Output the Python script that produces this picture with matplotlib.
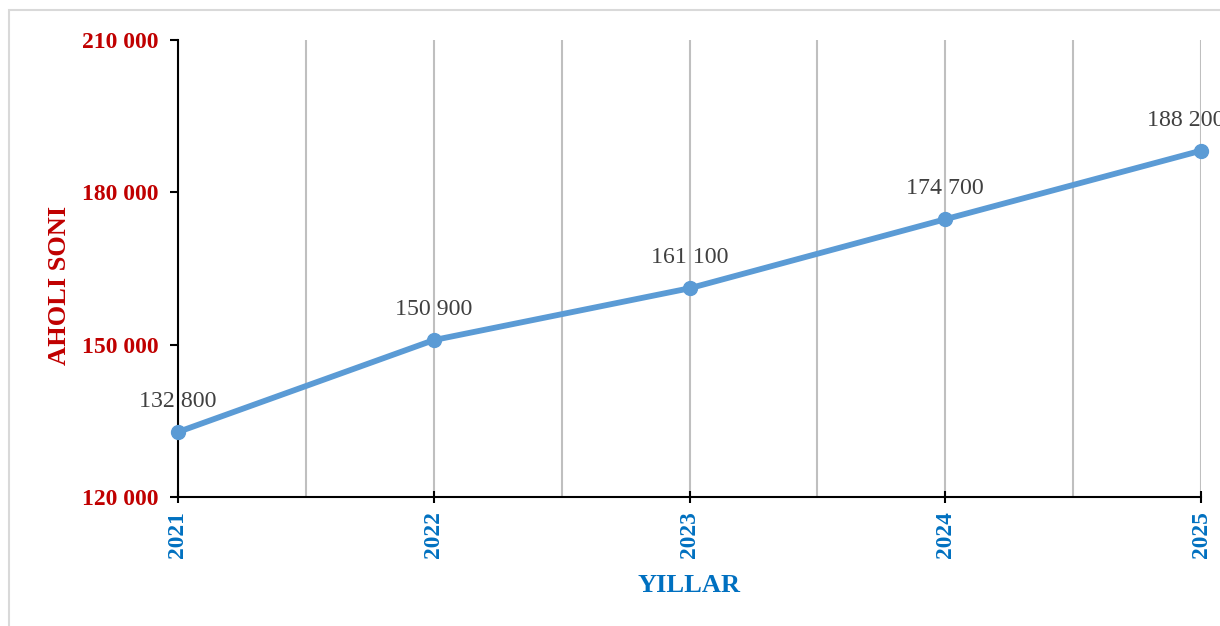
import numpy as np
from matplotlib import pyplot as plt
from matplotlib.patches import Rectangle

years = ['2021', '2022', '2023', '2024', '2025']
population = [132800, 150900, 161100, 174700, 188200]
labels = ['132 800', '150 900', '161 100', '174 700', '188 200']
yticks = [120000, 150000, 180000, 210000]
ytick_labels = ['120 000', '150 000', '180 000', '210 000']

plt.rcParams['font.family'] = ['Liberation Serif', 'DejaVu Serif']

red = '#C00000'
blue = '#0070C0'

fig = plt.figure(figsize=(12.2, 6.26), dpi=100)
fig.patches.append(Rectangle((9/1220, -0.1), 1.2, 1 - 10/626 + 0.1, transform=fig.transFigure,
                             fill=False, edgecolor='#D9D9D9', linewidth=1.5))
ax = fig.add_axes([178/1220, 1 - 497/626, (1201 - 178)/1220, (497 - 40)/626])

x = np.arange(len(years))
ax.plot(x, population, color='#5B9BD5', linewidth=4.2, marker='o', markersize=10,
        solid_capstyle='round', zorder=5, clip_on=False)
for i, (xi, yi, lab) in enumerate(zip(x, population, labels)):
    # last label is pushed a little to the left, as in the original
    dx = -11 if i == len(x) - 1 else 0
    ax.annotate(lab, (xi, yi), xytext=(dx, 22), textcoords='offset points',
                ha='center', va='center', fontsize=17.2, color='#404040',
                annotation_clip=False)

ax.set_xlim(0, len(years) - 1)
ax.set_ylim(120000, 210000)
ax.set_yticks(yticks)
ax.set_yticklabels(ytick_labels, color=red, fontweight='bold', fontsize=17)
ax.set_xticks(x)
ax.set_xticklabels(years, rotation=90, color=blue, fontweight='bold', fontsize=16.8)
ax.set_xticks(np.arange(0.5, len(years) - 1, 1.0), minor=True)

ax.grid(axis='x', which='both', color='#BFBFBF', linewidth=1.5)
ax.set_axisbelow(True)
ax.tick_params(axis='x', which='major', direction='inout', length=9, width=1.5, pad=6)
ax.tick_params(axis='x', which='minor', length=0)
ax.tick_params(axis='y', direction='out', length=6, width=1.5, pad=8)

for s in ['top', 'right']:
    ax.spines[s].set_visible(False)
for s in ['left', 'bottom']:
    ax.spines[s].set_linewidth(1.5)

ax.set_xlabel('YILLAR', color=blue, fontweight='bold', fontsize=19)
ax.set_ylabel('AHOLI SONI', color=red, fontweight='bold', fontsize=19)
ax.xaxis.set_label_coords(0.5, -(574 - 497) / 457)
ax.yaxis.set_label_coords(-(178 - 71) / 1023, (497 - 285) / 457)

plt.savefig('out.png', dpi=100)
